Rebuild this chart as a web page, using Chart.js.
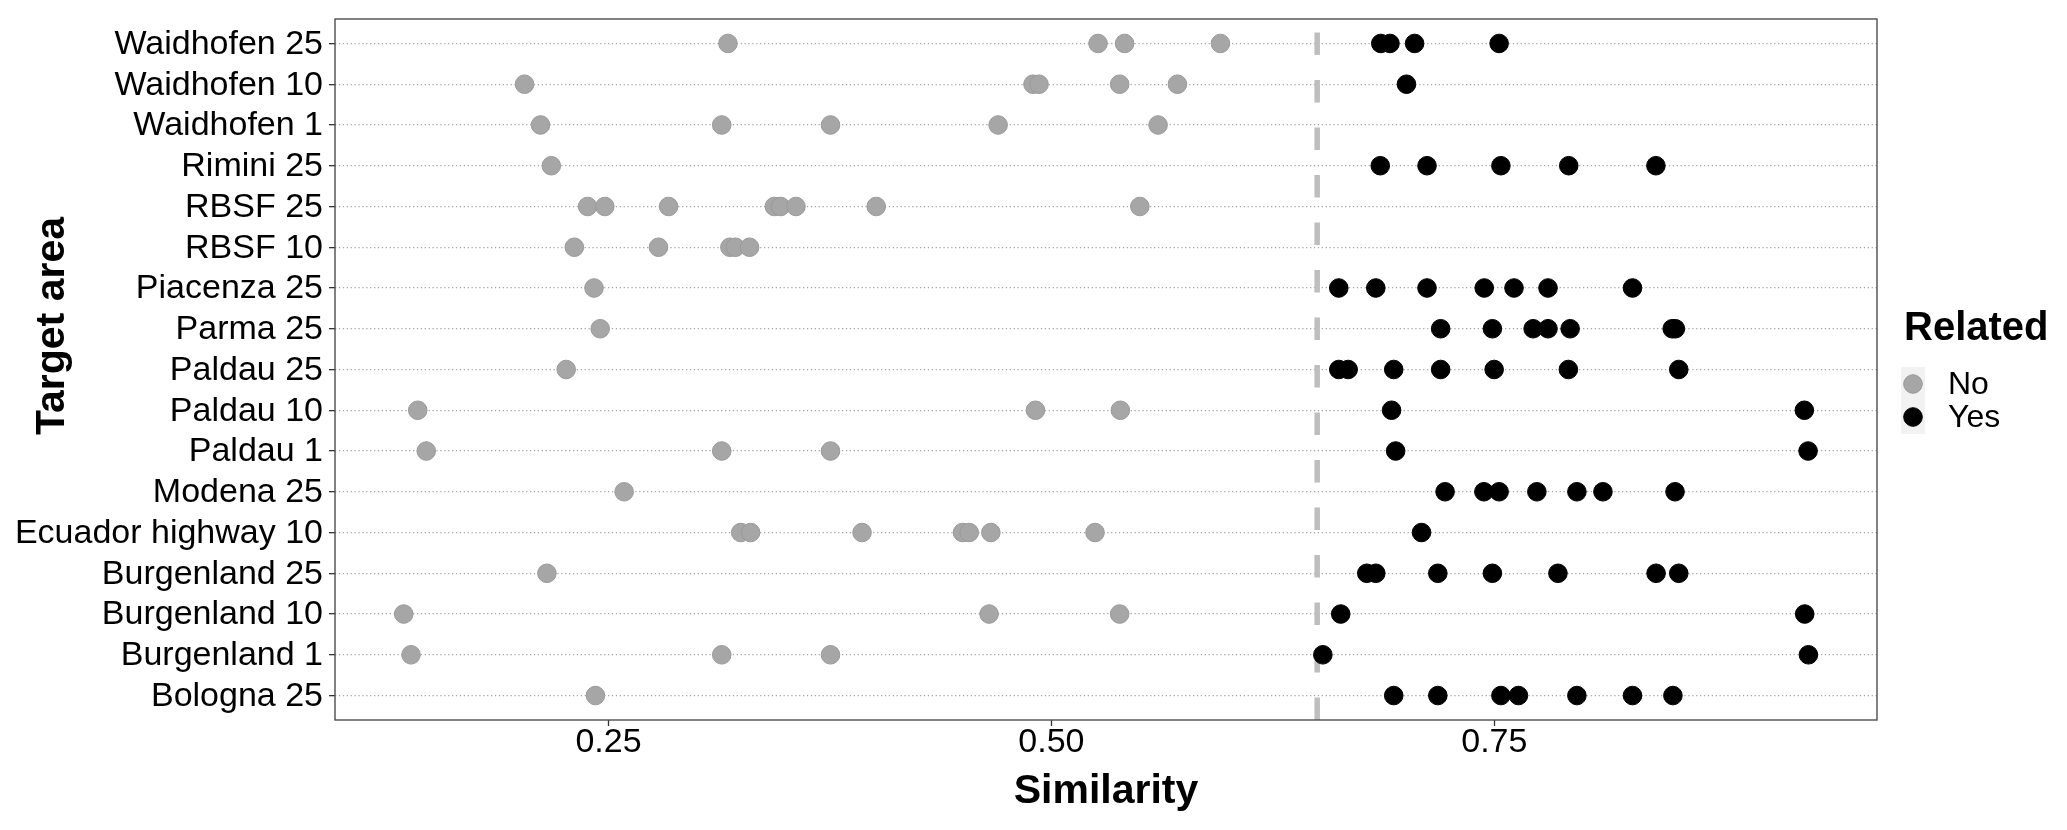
<!DOCTYPE html>
<html>
<head>
<meta charset="utf-8">
<title>Similarity by target area</title>
<script src="https://cdn.jsdelivr.net/npm/chart.js@4.4.1/dist/chart.umd.min.js"></script>
<style>
  html, body { margin: 0; padding: 0; background: #fff; }
  canvas { display: block; }
</style>
</head>
<body>
<canvas id="similarityChart" width="2067" height="830"></canvas>
<script>
/* Similarity of target areas, split by whether the source is related */

// categories, top to bottom
const areas = [
  'Waidhofen 25', 'Waidhofen 10', 'Waidhofen 1', 'Rimini 25', 'RBSF 25', 'RBSF 10',
  'Piacenza 25', 'Parma 25', 'Paldau 25', 'Paldau 10', 'Paldau 1', 'Modena 25',
  'Ecuador highway 10', 'Burgenland 25', 'Burgenland 10', 'Burgenland 1', 'Bologna 25'
];

// similarity values per area (same order as areas)
const notRelated = [
  [0.3174, 0.5263, 0.5413, 0.5954],
  [0.2026, 0.4896, 0.493, 0.5385, 0.5711],
  [0.2116, 0.3139, 0.3753, 0.4699, 0.5602],
  [0.2177],
  [0.2382, 0.2479, 0.2839, 0.3436, 0.3471, 0.3558, 0.4011, 0.5499],
  [0.2307, 0.2782, 0.3185, 0.3216, 0.3296],
  [0.2418],
  [0.2453],
  [0.2261],
  [0.1423, 0.491, 0.5389],
  [0.1471, 0.3139, 0.3753],
  [0.2588],
  [0.3246, 0.3302, 0.3931, 0.4498, 0.4536, 0.4658, 0.5246],
  [0.2152],
  [0.1344, 0.4648, 0.5385],
  [0.1385, 0.3139, 0.3753],
  [0.2426]
];

const related = [
  [0.6859, 0.6911, 0.705, 0.7527],
  [0.7004],
  [],
  [0.6856, 0.712, 0.7537, 0.792, 0.8412],
  [],
  [],
  [0.6622, 0.6831, 0.712, 0.7443, 0.7611, 0.7803, 0.828],
  [0.7197, 0.7489, 0.7719, 0.7803, 0.7928, 0.8504, 0.8522],
  [0.6622, 0.6675, 0.6932, 0.7197, 0.7499, 0.7918, 0.8541],
  [0.692, 0.925],
  [0.6943, 0.9271],
  [0.7222, 0.7441, 0.7527, 0.774, 0.7966, 0.8113, 0.852],
  [0.7089],
  [0.678, 0.6831, 0.7181, 0.7489, 0.7859, 0.8413, 0.8541],
  [0.6633, 0.9252],
  [0.6532, 0.9273],
  [0.6932, 0.7181, 0.7537, 0.7636, 0.7966, 0.828, 0.8508]
];

const groupLabels = ['No', 'Yes'];
const xTicks = [0.25, 0.5, 0.75];
const threshold = 0.65;

const FONT = "'Liberation Sans', Arial, Helvetica, sans-serif";
Chart.defaults.font.family = FONT;
Chart.defaults.color = '#000';

const toPoints = rows => rows.flatMap((vals, i) => vals.map(v => ({ x: v, y: i })));

// panel border, dashed cut-off line, y title and legend (ggplot look)
const ggDecor = {
  id: 'ggDecor',
  beforeDatasetsDraw(chart) {
    const { ctx, chartArea: a, scales: { x } } = chart;
    const px = x.getPixelForValue(threshold);
    ctx.save();
    ctx.strokeStyle = '#bebebe';
    ctx.lineWidth = 5.5;
    ctx.setLineDash([22.6, 24.9]);
    ctx.beginPath();
    ctx.moveTo(px, a.bottom);
    ctx.lineTo(px, a.top);
    ctx.stroke();
    ctx.restore();
  },
  afterDraw(chart) {
    const { ctx, chartArea: a } = chart;
    ctx.save();
    // panel border
    ctx.strokeStyle = '#4d4d4d';
    ctx.lineWidth = 1.4;
    ctx.strokeRect(a.left, a.top, a.right - a.left, a.bottom - a.top);

    // y axis title
    ctx.fillStyle = '#000';
    ctx.font = `bold 41px ${FONT}`;
    ctx.textAlign = 'center';
    ctx.textBaseline = 'middle';
    ctx.translate(53, 326);
    ctx.rotate(-Math.PI / 2);
    ctx.fillText('Target area', 0, 0);
    ctx.setTransform(1, 0, 0, 1, 0, 0);

    // legend
    ctx.textAlign = 'left';
    ctx.textBaseline = 'alphabetic';
    ctx.font = `bold 40px ${FONT}`;
    ctx.fillText('Related', 1904, 340);

    ctx.fillStyle = '#f2f2f2';
    ctx.fillRect(1901, 367, 24, 67);

    ctx.font = `32px ${FONT}`;
    ctx.textBaseline = 'middle';
    chart.data.datasets.forEach((ds, i) => {
      const cy = 384 + i * 33;
      ctx.beginPath();
      ctx.arc(1913, cy, ds.pointRadius, 0, Math.PI * 2);
      ctx.fillStyle = ds.backgroundColor;
      ctx.fill();
      ctx.lineWidth = ds.borderWidth;
      ctx.strokeStyle = ds.borderColor;
      ctx.stroke();
      ctx.fillStyle = '#000';
      ctx.fillText(ds.label, 1948, cy + 1);
    });
    ctx.restore();
  }
};

new Chart(document.getElementById('similarityChart'), {
  type: 'scatter',
  data: {
    datasets: [
      {
        label: groupLabels[0],
        data: toPoints(notRelated),
        backgroundColor: '#a6a6a6',
        borderColor: '#9a9a9a',
        borderWidth: 1,
        pointRadius: 9.3,
        pointHoverRadius: 9.3
      },
      {
        label: groupLabels[1],
        data: toPoints(related),
        backgroundColor: '#000000',
        borderColor: '#000000',
        borderWidth: 1,
        pointRadius: 9.3,
        pointHoverRadius: 9.3
      }
    ]
  },
  options: {
    responsive: false,
    animation: false,
    devicePixelRatio: 1,
    layout: { padding: { top: 19, right: 190, bottom: 0, left: 0 } },
    plugins: {
      legend: { display: false },
      tooltip: { enabled: false }
    },
    scales: {
      x: {
        type: 'linear',
        min: 0.0956,
        max: 0.966,
        afterBuildTicks: s => { s.ticks = xTicks.map(v => ({ value: v })); },
        afterFit: s => { s.height = 110; s.paddingLeft = 0; s.paddingRight = 0; },
        ticks: {
          padding: 0,
          font: { size: 34, lineHeight: 1 },
          color: '#000',
          callback: v => v.toFixed(2)
        },
        grid: {
          drawOnChartArea: false,
          drawTicks: true,
          tickLength: 6,
          tickColor: '#333',
          tickWidth: 1.3
        },
        border: { display: false },
        title: {
          display: true,
          text: 'Similarity',
          color: '#000',
          font: { size: 41, weight: 'bold' },
          padding: { top: 0, bottom: 14 }
        }
      },
      y: {
        type: 'linear',
        reverse: true,
        min: -0.6,
        max: areas.length - 0.4,
        afterBuildTicks: s => { s.ticks = areas.map((_, i) => ({ value: i })); },
        afterFit: s => { s.width = 335; s.paddingTop = 0; s.paddingBottom = 0; },
        ticks: {
          autoSkip: false,
          padding: 6,
          font: { size: 34 },
          color: '#000',
          labelOffset: 1,
          callback: v => areas[v]
        },
        grid: {
          color: '#a8a8a8',
          lineWidth: 1.3,
          drawTicks: true,
          tickLength: 6,
          tickColor: '#333',
          tickWidth: 1.3,
          tickBorderDash: []
        },
        border: { display: false, dash: [1.3, 2.6] }
      }
    }
  },
  plugins: [ggDecor]
});
</script>
</body>
</html>
